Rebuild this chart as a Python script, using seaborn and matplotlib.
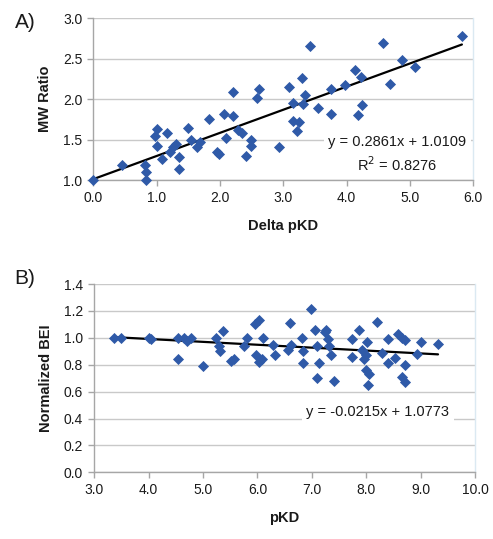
import matplotlib
matplotlib.use("Agg")
import matplotlib.pyplot as plt
import seaborn as sns
import numpy as np
import pandas as pd

# ---------------- data ----------------
# Panel A: Delta pKD vs MW Ratio
delta_pkd = [0.00, 0.46, 0.82, 0.83, 0.83, 0.97, 1.01, 1.01, 1.08, 1.17,
             1.21, 1.26, 1.31, 1.36, 1.36, 1.50, 1.54, 1.64, 1.68, 1.83,
             1.96, 1.99, 2.06, 2.09, 2.20, 2.21, 2.29, 2.34, 2.41, 2.49,
             2.49, 2.58, 2.62, 2.93, 3.09, 3.16, 3.16, 3.22, 3.24, 3.29,
             3.31, 3.34, 3.42, 3.54, 3.76, 3.76, 3.97, 4.14, 4.18, 4.23,
             4.25, 4.58, 4.69, 4.88, 5.08, 5.82]
mw_ratio = [1.00, 1.18, 1.19, 1.10, 1.00, 1.54, 1.63, 1.42, 1.26, 1.58,
            1.35, 1.41, 1.44, 1.28, 1.14, 1.64, 1.50, 1.41, 1.47, 1.75,
            1.35, 1.32, 1.82, 1.52, 2.09, 1.79, 1.62, 1.58, 1.30, 1.49,
            1.42, 2.02, 2.13, 1.41, 2.15, 1.95, 1.73, 1.60, 1.72, 2.26,
            1.94, 2.05, 2.66, 1.89, 2.13, 1.82, 2.18, 2.36, 1.80, 2.28,
            1.93, 2.70, 2.19, 2.48, 2.40, 2.78]
fit_a_slope, fit_a_intercept = 0.2861, 1.0109
fit_a_r2 = 0.8276

# Panel B: pKD vs Normalized BEI
pkd = [3.37, 3.49, 4.01, 4.05, 4.53, 4.53, 4.65, 4.71, 4.78, 4.99,
       5.24, 5.30, 5.31, 5.37, 5.52, 5.57, 5.75, 5.80, 5.96, 6.03,
       5.97, 6.02, 6.08, 6.10, 6.29, 6.32, 6.57, 6.59, 6.61, 6.82,
       6.83, 6.83, 6.98, 7.06, 7.10, 7.09, 7.14, 7.24, 7.26, 7.29,
       7.32, 7.36, 7.41, 7.73, 7.73, 7.86, 7.92, 7.95, 7.99, 8.02,
       8.00, 8.06, 8.04, 8.20, 8.29, 8.40, 8.40, 8.53, 8.59, 8.66,
       8.71, 8.66, 8.71, 8.72, 8.93, 9.00, 9.32]
norm_bei = [1.00, 1.00, 1.00, 0.99, 1.00, 0.84, 1.00, 0.975, 1.00, 0.79,
            1.00, 0.94, 0.90, 1.05, 0.83, 0.84, 0.94, 1.00, 1.10, 1.13,
            0.87, 0.82, 0.84, 1.00, 0.95, 0.87, 0.91, 1.11, 0.95, 1.00,
            0.90, 0.81, 1.215, 1.06, 0.94, 0.70, 0.81, 1.04, 1.06, 0.99,
            0.94, 0.87, 0.68, 0.99, 0.86, 1.06, 0.91, 0.84, 0.87, 0.97,
            0.76, 0.73, 0.65, 1.12, 0.89, 0.99, 0.81, 0.85, 1.03, 1.00,
            0.98, 0.71, 0.67, 0.80, 0.88, 0.97, 0.955]
fit_b_slope, fit_b_intercept = -0.0215, 1.0773

# ---------------- style ----------------
sns.set_theme(style="white")
plt.rcParams['font.family'] = ['Liberation Sans', 'DejaVu Sans']

BLUE = "#2f5aa8"
GRID = "#c9c9c9"
SPINE = "#a6a6a6"
TXT = "#1a1a1a"

fig = plt.figure(figsize=(4.93, 5.39), dpi=100)
axA = fig.add_axes([93.3 / 493, 1 - 180 / 539, (473.3 - 93.3) / 493, (180 - 18.3) / 539])
axB = fig.add_axes([94.3 / 493, 1 - 472.3 / 539, (475 - 94.3) / 493, (472.3 - 284) / 539])

dfA = pd.DataFrame({"x": delta_pkd, "y": mw_ratio})
dfB = pd.DataFrame({"x": pkd, "y": norm_bei})


def style_axes(ax):
    ax.grid(axis="y", color=GRID, linewidth=1.0, zorder=0)
    ax.grid(axis="x", visible=False)
    ax.set_axisbelow(True)
    for s in ["left", "bottom"]:
        ax.spines[s].set_color(SPINE)
        ax.spines[s].set_linewidth(1.0)
    ax.spines["top"].set_visible(False)
    ax.spines["right"].set_color("#dbe9f2")
    ax.spines["right"].set_linewidth(1.0)
    ax.tick_params(axis="both", direction="out", length=4, width=1.0,
                   color=SPINE, labelsize=10, labelcolor=TXT, pad=4,
                   left=True, bottom=True)


# Panel A
fit_xA = np.array([min(delta_pkd), max(delta_pkd)])
fit_yA = fit_a_slope * fit_xA + fit_a_intercept
sns.lineplot(x=fit_xA, y=fit_yA, ax=axA, color="black", linewidth=1.6, zorder=2)
sns.scatterplot(data=dfA, x="x", y="y", ax=axA, marker="D", s=32,
                color=BLUE, edgecolor=BLUE, linewidth=0, zorder=3, clip_on=False)
axA.set_xlim(0, 6)
axA.set_ylim(1.0, 3.0)
axA.set_xticks(np.arange(0, 6.01, 1.0))
axA.set_yticks(np.arange(1.0, 3.01, 0.5))
axA.set_xticklabels([f"{v:.1f}" for v in np.arange(0, 6.01, 1.0)])
axA.set_yticklabels([f"{v:.1f}" for v in np.arange(1.0, 3.01, 0.5)])
style_axes(axA)
axA.set_xlabel("Delta pKD", fontsize=10.5, fontweight="bold", color=TXT, labelpad=10)
axA.set_ylabel("MW Ratio", fontsize=10.5, fontweight="bold", color=TXT, labelpad=8)
axA.text(4.80, 1.315, f"y = {fit_a_slope:.4f}x + {fit_a_intercept:.4f}\nR$^2$ = {fit_a_r2:.4f}",
         ha="center", va="center", fontsize=10.5, color=TXT, linespacing=1.35,
         zorder=4, bbox=dict(boxstyle="square,pad=0.3", facecolor="white", edgecolor="none"))
fig.text(25 / 493, 1 - 23 / 539, "A)", fontsize=15, color=TXT, ha="center", va="center")

# Panel B
fit_xB = np.array([min(pkd), max(pkd)])
fit_yB = fit_b_slope * fit_xB + fit_b_intercept
sns.lineplot(x=fit_xB, y=fit_yB, ax=axB, color="black", linewidth=1.6, zorder=2)
sns.scatterplot(data=dfB, x="x", y="y", ax=axB, marker="D", s=32,
                color=BLUE, edgecolor=BLUE, linewidth=0, zorder=3, clip_on=False)
axB.set_xlim(3.0, 10.0)
axB.set_ylim(0.0, 1.4)
axB.set_xticks(np.arange(3.0, 10.01, 1.0))
axB.set_yticks(np.arange(0.0, 1.41, 0.2))
axB.set_xticklabels([f"{v:.1f}" for v in np.arange(3.0, 10.01, 1.0)])
axB.set_yticklabels([f"{v:.1f}" for v in np.arange(0.0, 1.41, 0.2)])
style_axes(axB)
axB.set_xlabel("pKD", fontsize=10.5, fontweight="bold", color=TXT, labelpad=10)
axB.set_ylabel("Normalized BEI", fontsize=10.5, fontweight="bold", color=TXT, labelpad=8)
axB.text(8.215, 0.451, f"y = {fit_b_slope:.4f}x + {fit_b_intercept:.4f}",
         ha="center", va="center", fontsize=10.5, color=TXT, zorder=4,
         bbox=dict(boxstyle="square,pad=0.3", facecolor="white", edgecolor="none"))
fig.text(25 / 493, 1 - 278 / 539, "B)", fontsize=15, color=TXT, ha="center", va="center")

fig.savefig("out.png", dpi=100)
